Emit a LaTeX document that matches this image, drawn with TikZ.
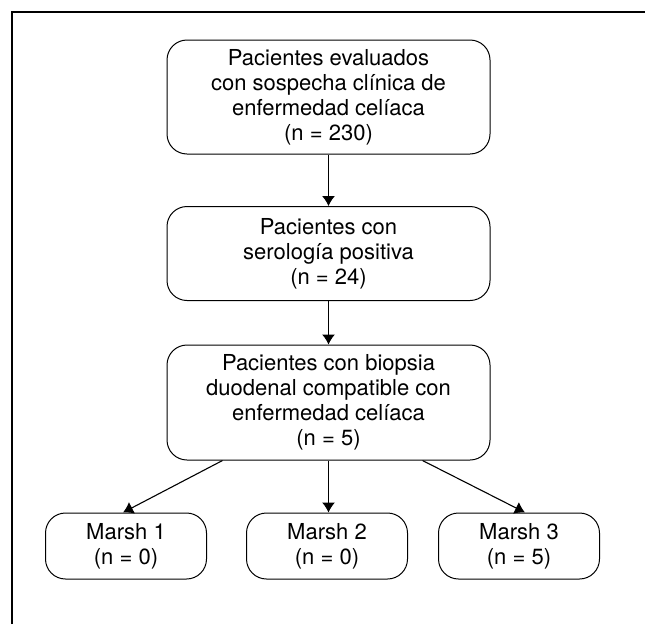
\documentclass[tikz,border=0pt]{standalone}
\usepackage{fontspec}
\setmainfont{TeX Gyre Heros}
\usepackage{tikz}
\usetikzlibrary{shapes,arrows.meta,positioning}

\begin{document}
\begin{tikzpicture}[x=1pt,y=-1pt,>={Latex[length=10pt,width=13pt]},
  every node/.style={align=center,draw,rounded corners=20pt,inner sep=0pt,line width=1pt,
    font=\fontsize{22}{25}\selectfont},
  bigbox/.style={minimum width=323pt},
  smallbox/.style={minimum width=161pt,minimum height=66pt}]
\useasboundingbox (0,0) rectangle (645,624);
\draw[line width=2.2pt] (12,624) -- (12,12) -- (645,12);

\node[bigbox,minimum height=114pt] (eval) at (328.5,97) {Pacientes evaluados\\con sospecha clínica de\\enfermedad celíaca\\(n = 230)};
\node[bigbox,minimum height=94pt] (sero) at (328.5,253.5) {Pacientes con\\serología positiva\\(n = 24)};
\node[bigbox,minimum height=115pt] (biop) at (328.5,402.5) {Pacientes con biopsia\\duodenal compatible con\\enfermedad celíaca\\(n = 5)};
\node[smallbox] (marsh1) at (126,546) {Marsh 1\\(n = 0)};
\node[smallbox] (marsh2) at (327,546) {Marsh 2\\(n = 0)};
\node[smallbox] (marsh3) at (519,546) {Marsh 3\\(n = 5)};

\draw[->,line width=1.1pt] (eval) edge (sero)
            (sero) edge (biop)
            (biop) edge (biop.south |- marsh2.north);
\draw[->,line width=1.1pt] ([xshift=-106pt]biop.south) -- ([xshift=-3pt]marsh1.north);
\draw[->,line width=1.1pt] ([xshift=94pt]biop.south) -- ([xshift=6pt]marsh3.north);

\end{tikzpicture}
\end{document}
